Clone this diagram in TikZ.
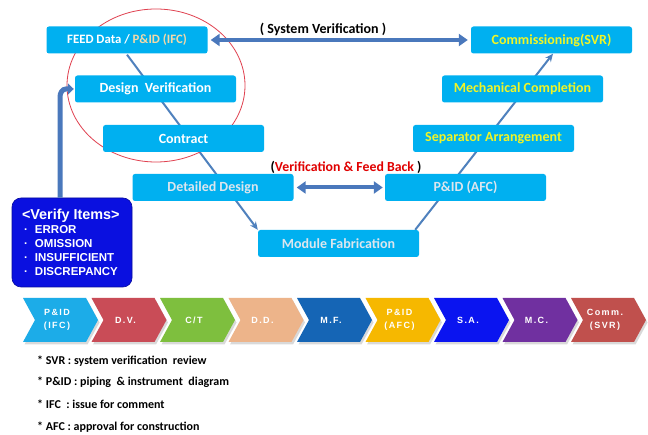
\documentclass[tikz,border=0pt]{standalone}
\usepackage{fontspec}
\setmainfont{Carlito}
\newfontfamily\arialfont{Liberation Sans}
\newfontfamily\chevfont{Liberation Sans}[LetterSpace=16]
\usetikzlibrary{arrows.meta,calc}

\definecolor{boxblue}{HTML}{00B0F0}
\definecolor{linkblue}{HTML}{4F81BD}
\definecolor{arrowblue}{HTML}{4A78BC}
\definecolor{paletext}{HTML}{DCE6EE}
\definecolor{tantext}{HTML}{F3D9A8}
\definecolor{yeltext}{HTML}{F0F526}
\definecolor{verifyblue}{HTML}{0A10E0}
\definecolor{circlered}{HTML}{E0404F}
\definecolor{fbred}{HTML}{E00000}
\definecolor{chA}{HTML}{1CACE8}
\definecolor{chB}{HTML}{C94C57}
\definecolor{chC}{HTML}{7EBF3E}
\definecolor{chD}{HTML}{EDB48A}
\definecolor{chE}{HTML}{1565B5}
\definecolor{chF}{HTML}{F6B800}
\definecolor{chG}{HTML}{0A14F0}
\definecolor{chH}{HTML}{7030A0}
\definecolor{chI}{HTML}{C0504D}

\pgfdeclarelayer{background}
\pgfsetlayers{background,main}

\tikzset{
  stagebox/.style={fill=boxblue, rounded corners=2.5pt, minimum width=161pt,
    minimum height=27pt, inner sep=0pt, text=white,
    font=\fontsize{14}{16}\selectfont\bfseries},
  flowline/.style={linkblue, line width=2pt, -{Stealth[length=8pt,width=7pt]}},
  bigarrow/.style={arrowblue, line width=4pt,
    {Triangle[length=9pt,width=12pt]}-{Triangle[length=9pt,width=12pt]}},
  verifybox/.style={fill=verifyblue, draw=verifyblue!70!black, line width=0.6pt,
    rounded corners=9pt, minimum width=120pt, minimum height=89pt,
    inner sep=0pt, text=white, align=left},
  chevlabel/.style={text=white, align=center, inner sep=0pt,
    font=\chevfont\fontsize{9}{13.5}\selectfont\bfseries},
  noteline/.style={anchor=west, inner sep=0pt,
    font=\fontsize{12}{14}\selectfont\bfseries},
  vlabel/.style={font=\fontsize{14}{16}\selectfont\bfseries, inner sep=0pt},
}

\begin{document}
\begin{tikzpicture}[x=1pt,y=-1pt]
\useasboundingbox (0,0) rectangle (648,435);

% process boxes of the V
\node[stagebox, font=\fontsize{12.8}{15}\selectfont\bfseries] (feed) at (127,40)
  {FEED Data / \textcolor{tantext}{P\&ID (IFC)}};
\node[stagebox] (dv) at (155.5,89) {Design\ \ Verification};
\node[stagebox] (ct) at (183.5,138.5) {Contract};
\node[stagebox, text=paletext] (dd) at (213,187.5) {Detailed Design};
\node[stagebox, text=paletext] (mf) at (338.5,243.5) {Module Fabrication};
\node[stagebox, text=paletext] (afc) at (465.5,187.5) {P\&ID (AFC)};
\node[stagebox, text=yeltext] (sa) at (493.5,138.5) {Separator Arrangement};
\node[stagebox, text=yeltext] (mc) at (522.5,89) {Mechanical Completion};
\node[stagebox, text=yeltext] (comm) at (551.5,40) {Commissioning(SVR)};

% white sheet, the two legs of the V and the review circle, behind the boxes
\begin{pgfonlayer}{background}
  \fill[white] (0,0) rectangle (648,435);
  \draw[flowline] ($(feed.south)+(0,1)$) -- (mf.north west);
  \draw[flowline] ($(mf.north east)+(-4,0)$) -- ($(comm.south)+(1.5,0)$);
  \draw[circlered, line width=0.8pt] (156,85.5) ellipse [x radius=89pt, y radius=76.5pt];
\end{pgfonlayer}

% verification arrows
\draw[bigarrow] ($(feed.east)+(3,0)$) -- ($(comm.west)+(-3,0)$);
\node[vlabel] (svlbl) at (323,29) {( System Verification )};
\draw[bigarrow] ($(dd.east)+(3,0)$) -- ($(afc.west)+(-2,0)$);
\node[vlabel, font=\fontsize{13.8}{16}\selectfont\bfseries] (fblbl) at (346,167)
  {(\textcolor{fbred}{Verification \& Feed Back} )};

% verify items
\node[verifybox] (vbox) at (72,242.5) {%
  \begin{minipage}{110pt}\arialfont\bfseries
  {\fontsize{14.4}{16}\selectfont\hspace*{5pt}<Verify Items>}\par
  {\fontsize{11.5}{14}\selectfont
  \makebox[18pt][l]{\hspace{7pt}·}ERROR\par
  \makebox[18pt][l]{\hspace{7pt}·}OMISSION\par
  \makebox[18pt][l]{\hspace{7pt}·}INSUFFICIENT\par
  \makebox[18pt][l]{\hspace{7pt}·}DISCREPANCY\par}
  \end{minipage}};
\coordinate (vtop) at ($(vbox.north)+(-12,0)$);
\draw[arrowblue, line width=5pt, -{Triangle[length=6pt,width=11pt]}]
  (vtop) -- (60,97) to[out=90,in=180] (66,89) -- ($(dv.west)+(-1,0)$);

% stage chevrons
\foreach \i/\col/\lbl in {0/chA/{P\&ID\\(IFC)}, 1/chB/{D.V.}, 2/chC/{C/T},
    3/chD/{D.D.}, 4/chE/{M.F.}, 5/chF/{P\&ID\\(AFC)}, 6/chG/{S.A.},
    7/chH/{M.C.}, 8/chI/{Comm.\\(SVR)}} {
  \pgfmathsetmacro\xa{23+68.5*\i}
  \fill[black, opacity=0.15] (\xa+1.5,300.5) -- ++(63,0) -- ++(12,22) -- ++(-12,22)
    -- ++(-63,0) -- ++(12,-22) -- cycle;
  \fill[\col] (\xa,298) -- ++(63,0) -- ++(12,22) -- ++(-12,22)
    -- ++(-63,0) -- ++(12,-22) -- cycle;
  \node[chevlabel] (chev\i) at (\xa+34,320) {\lbl};
}

% abbreviations
\node[noteline] (n1) at (37,361) {* SVR : system verification\ \ review};
\node[noteline] (n2) at (37,382) {* P\&ID : piping\ \ \& instrument\ \ diagram};
\node[noteline] (n3) at (37,404) {* IFC\ \ : issue for comment};
\node[noteline] (n4) at (37,427) {* AFC : approval for construction};
\end{tikzpicture}
\end{document}
